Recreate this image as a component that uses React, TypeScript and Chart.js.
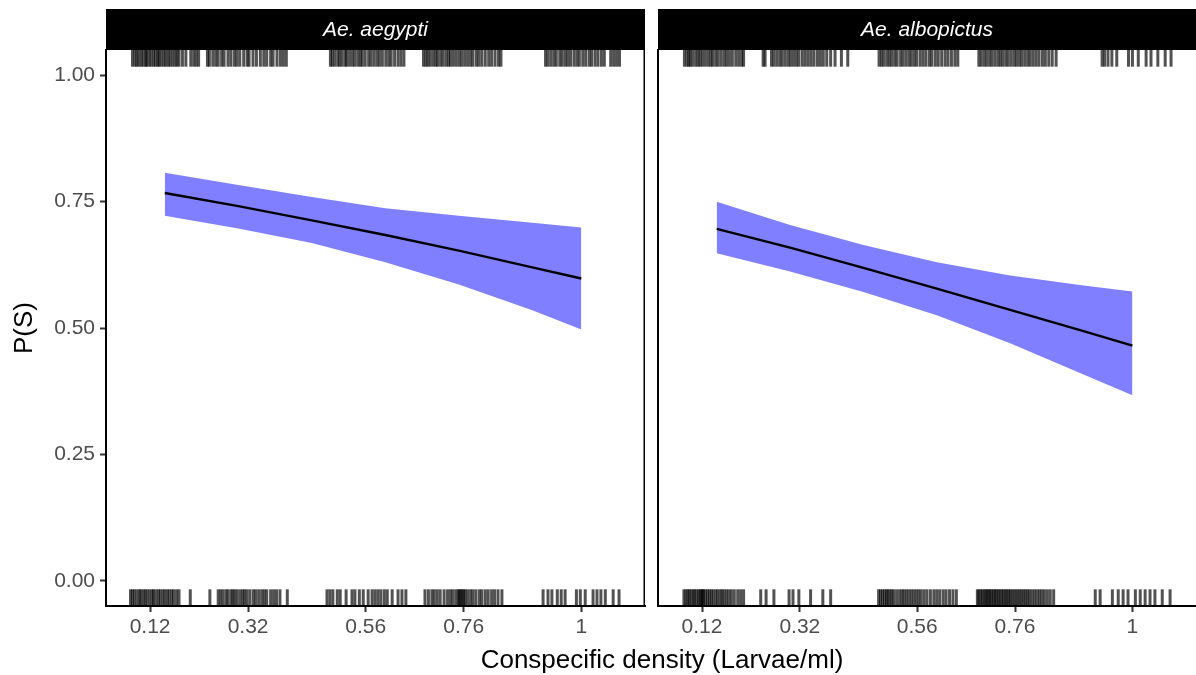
import React, { useEffect, useRef } from "react";
import { Chart, registerables } from "chart.js";

Chart.register(...registerables);

const FONT = "'Liberation Sans', Arial, Helvetica, sans-serif";

// ---- axes ----
const xTickValues = [0.12, 0.32, 0.56, 0.76, 1];
const yTickValues = [0, 0.25, 0.5, 0.75, 1];
const X_MIN = 0.03;
const X_MAX = 1.13;
const Y_MIN = -0.05;
const Y_MAX = 1.05;

// ---- fitted curves ----
const curveX = [0.15, 0.3, 0.45, 0.6, 0.75, 0.9, 1.0];
const aegyptiFit = [0.767, 0.741, 0.713, 0.684, 0.653, 0.62, 0.598];
const aegyptiUpper = [0.807, 0.783, 0.759, 0.737, 0.722, 0.708, 0.699];
const aegyptiLower = [0.722, 0.697, 0.668, 0.63, 0.586, 0.535, 0.497];
const albopictusFit = [0.696, 0.659, 0.619, 0.578, 0.536, 0.494, 0.465];
const albopictusUpper = [0.75, 0.704, 0.664, 0.63, 0.604, 0.584, 0.572];
const albopictusLower = [0.648, 0.612, 0.571, 0.525, 0.47, 0.408, 0.367];

// ---- rug observations (jittered density), survived = 1 / died = 0 ----
const aegyptiSurvived = [
  0.084, 0.089, 0.093, 0.097, 0.102, 0.106, 0.111, 0.113, 0.118, 0.122, 0.127, 0.131, 0.136, 0.138, 0.143,
  0.148, 0.152, 0.157, 0.161, 0.166, 0.171, 0.175, 0.179, 0.186, 0.193, 0.203, 0.209, 0.214, 0.219,
  0.237, 0.241, 0.248, 0.254, 0.259, 0.266, 0.271, 0.279, 0.285, 0.292, 0.297, 0.303, 0.311, 0.318, 0.322,
  0.33, 0.337, 0.345, 0.352, 0.358, 0.366, 0.371, 0.379, 0.386, 0.392, 0.398,
  0.488, 0.492, 0.497, 0.503, 0.507, 0.512, 0.518, 0.521, 0.527, 0.533, 0.538, 0.544, 0.549, 0.553, 0.559,
  0.566, 0.571, 0.577, 0.583, 0.588, 0.594, 0.601, 0.607, 0.612, 0.619, 0.626, 0.632, 0.638,
  0.678, 0.683, 0.687, 0.692, 0.698, 0.703, 0.707, 0.713, 0.718, 0.724, 0.729, 0.733, 0.739, 0.745, 0.751,
  0.756, 0.762, 0.768, 0.774, 0.779, 0.786, 0.791, 0.797, 0.804, 0.811, 0.817, 0.824, 0.831, 0.836,
  0.927, 0.932, 0.938, 0.944, 0.949, 0.956, 0.961, 0.967, 0.972, 0.978, 0.985, 0.991, 0.996, 1.003, 1.009,
  1.016, 1.021, 1.028, 1.034, 1.041, 1.047, 1.06, 1.066, 1.072, 1.078,
];
const aegyptiDied = [
  0.08, 0.084, 0.088, 0.093, 0.098, 0.101, 0.106, 0.11, 0.114, 0.119, 0.124, 0.127, 0.132, 0.137, 0.141,
  0.146, 0.15, 0.155, 0.159, 0.164, 0.168, 0.174, 0.179, 0.202,
  0.242, 0.259, 0.264, 0.269, 0.275, 0.279, 0.285, 0.289, 0.293, 0.298, 0.304, 0.309, 0.313, 0.318, 0.324,
  0.331, 0.336, 0.342, 0.348, 0.353, 0.358, 0.366, 0.372, 0.378, 0.385, 0.4,
  0.481, 0.487, 0.493, 0.502, 0.508, 0.52, 0.532, 0.538, 0.547, 0.555, 0.565, 0.573, 0.579, 0.585, 0.591,
  0.598, 0.604, 0.614, 0.626, 0.634, 0.642,
  0.681, 0.688, 0.695, 0.7, 0.706, 0.712, 0.72, 0.727, 0.733, 0.738, 0.744, 0.749, 0.751, 0.754, 0.757,
  0.76, 0.763, 0.768, 0.774, 0.779, 0.785, 0.792, 0.797, 0.804, 0.81, 0.817, 0.823, 0.83, 0.838,
  0.922, 0.932, 0.94, 0.951, 0.959, 0.967, 0.99, 0.998, 1.008, 1.024, 1.032, 1.04, 1.049, 1.065, 1.077,
];
const albopictusSurvived = [
  0.084, 0.089, 0.093, 0.096, 0.101, 0.107, 0.112, 0.116, 0.121, 0.127, 0.133, 0.138, 0.142, 0.148, 0.153,
  0.159, 0.165, 0.17, 0.176, 0.182, 0.189, 0.195, 0.201, 0.205,
  0.245, 0.249, 0.262, 0.267, 0.273, 0.279, 0.284, 0.29, 0.296, 0.301, 0.307, 0.313, 0.318, 0.325, 0.331,
  0.337, 0.343, 0.349, 0.356, 0.362, 0.368, 0.375, 0.383, 0.392, 0.405, 0.418,
  0.482, 0.487, 0.492, 0.498, 0.503, 0.508, 0.514, 0.519, 0.526, 0.531, 0.537, 0.543, 0.548, 0.554, 0.559,
  0.566, 0.572, 0.578, 0.585, 0.59, 0.597, 0.603, 0.61, 0.617, 0.623, 0.63, 0.637, 0.643,
  0.686, 0.691, 0.697, 0.702, 0.708, 0.713, 0.719, 0.725, 0.73, 0.735, 0.741, 0.746, 0.752, 0.758, 0.763,
  0.769, 0.774, 0.78, 0.786, 0.791, 0.797, 0.803, 0.809, 0.816, 0.822, 0.829, 0.836, 0.844,
  0.938, 0.943, 0.95, 0.958, 0.968, 0.992, 1.0, 1.012, 1.028, 1.038, 1.052, 1.067, 1.079,
];
const albopictusDied = [
  0.083, 0.087, 0.091, 0.094, 0.098, 0.102, 0.105, 0.109, 0.113, 0.116, 0.119, 0.121, 0.123, 0.127, 0.131,
  0.135, 0.139, 0.143, 0.148, 0.152, 0.157, 0.161, 0.165, 0.17, 0.175, 0.18, 0.186, 0.193, 0.199, 0.205,
  0.24, 0.251, 0.267, 0.298, 0.306, 0.318, 0.342, 0.367, 0.383,
  0.481, 0.485, 0.489, 0.493, 0.497, 0.5, 0.504, 0.508, 0.512, 0.518, 0.524, 0.529, 0.533, 0.538, 0.543,
  0.548, 0.553, 0.558, 0.563, 0.568, 0.574, 0.58, 0.587, 0.594, 0.6, 0.606, 0.613, 0.619, 0.626, 0.633, 0.64,
  0.683, 0.686, 0.69, 0.693, 0.697, 0.7, 0.703, 0.706, 0.709, 0.712, 0.716, 0.719, 0.722, 0.726, 0.729,
  0.733, 0.736, 0.74, 0.743, 0.747, 0.75, 0.754, 0.758, 0.762, 0.766, 0.77, 0.774, 0.778, 0.782, 0.786,
  0.79, 0.795, 0.8, 0.805, 0.81, 0.815, 0.82, 0.826, 0.832, 0.839,
  0.924, 0.934, 0.959, 0.971, 0.981, 0.991, 1.006, 1.016, 1.026, 1.036, 1.046, 1.061, 1.077,
];

const RUG_FRAC = 0.03;
const RUG_TOP_Y = Y_MAX - ((Y_MAX - Y_MIN) * RUG_FRAC) / 2;
const RUG_BOTTOM_Y = Y_MIN + ((Y_MAX - Y_MIN) * RUG_FRAC) / 2;

const stripPlugin = {
  id: "strip",
  afterDraw(chart: any, _args: any, opts: any) {
    const { ctx, chartArea } = chart;
    ctx.save();
    ctx.fillStyle = "#000000";
    ctx.fillRect(chartArea.left, 9, chartArea.right - chartArea.left, chartArea.top - 9);
    ctx.fillStyle = "#ffffff";
    ctx.font = `italic 21px ${FONT}`;
    ctx.textAlign = "center";
    ctx.textBaseline = "middle";
    ctx.fillText(opts.text || "", (chartArea.left + chartArea.right) / 2, (9 + chartArea.top) / 2 + 1);
    if (opts.rightBorder) {
      ctx.strokeStyle = "#000000";
      ctx.lineWidth = 1.5;
      ctx.beginPath();
      ctx.moveTo(chartArea.right - 0.75, chartArea.top);
      ctx.lineTo(chartArea.right - 0.75, chartArea.bottom);
      ctx.stroke();
    }
    ctx.restore();
  },
};

function buildDatasets(fit: number[], upper: number[], lower: number[], survived: number[], died: number[]) {
  const rugStyle = {
    showLine: false,
    pointStyle: "line",
    rotation: 90,
    pointRadius: 8.35,
    pointHoverRadius: 8.35,
    pointBorderWidth: 3,
    pointBorderColor: "rgba(0,0,0,0.68)",
    pointBackgroundColor: "rgba(0,0,0,0.68)",
  };
  return [
    { ...rugStyle, data: survived.map((x) => ({ x, y: RUG_TOP_Y })) },
    { ...rugStyle, data: died.map((x) => ({ x, y: RUG_BOTTOM_Y })) },
    {
      data: curveX.map((x, i) => ({ x, y: fit[i] })),
      showLine: true,
      borderColor: "#000000",
      borderWidth: 2.4,
      pointRadius: 0,
      fill: false,
    },
    {
      data: curveX.map((x, i) => ({ x, y: upper[i] })),
      showLine: true,
      borderColor: "rgba(0,0,0,0)",
      borderWidth: 0,
      pointRadius: 0,
      fill: false,
    },
    {
      data: curveX.map((x, i) => ({ x, y: lower[i] })),
      showLine: true,
      borderColor: "rgba(0,0,0,0)",
      borderWidth: 0,
      pointRadius: 0,
      fill: "-1",
      backgroundColor: "rgba(0,0,255,0.5)",
    },
  ];
}

function buildConfig(isLeft: boolean, title: string, datasets: any[]): any {
  return {
    type: "line",
    data: { datasets },
    plugins: [stripPlugin],
    options: {
      responsive: false,
      animation: false,
      devicePixelRatio: 1,
      events: [],
      layout: { autoPadding: false, padding: { top: 50, left: isLeft ? 0 : 7, right: isLeft ? 6 : 0, bottom: 0 } },
      plugins: {
        legend: { display: false },
        tooltip: { enabled: false },
        strip: { text: title, rightBorder: isLeft },
      },
      scales: {
        x: {
          type: "linear",
          min: X_MIN,
          max: X_MAX,
          afterBuildTicks: (scale: any) => {
            scale.ticks = xTickValues.map((v) => ({ value: v }));
          },
          afterFit: (scale: any) => {
            scale.height = 69;
          },
          ticks: {
            autoSkip: false,
            maxRotation: 0,
            minRotation: 0,
            padding: 3,
            color: "#4D4D4D",
            font: { family: FONT, size: 21, lineHeight: 1.2 },
            callback: (v: any) => String(v),
          },
          grid: {
            display: true,
            drawOnChartArea: false,
            drawTicks: true,
            tickLength: 6,
            tickColor: "#333333",
            tickWidth: 2,
            color: "#333333",
          },
          border: { display: true, color: "#000000", width: 2 },
        },
        y: {
          type: "linear",
          min: Y_MIN,
          max: Y_MAX,
          afterBuildTicks: (scale: any) => {
            scale.ticks = yTickValues.map((v) => ({ value: v }));
          },
          afterFit: (scale: any) => {
            scale.width = isLeft ? 106 : 0;
          },
          ticks: {
            display: isLeft,
            autoSkip: false,
            padding: 5,
            color: "#4D4D4D",
            font: { family: FONT, size: 21, lineHeight: 1.2 },
            callback: (v: any) => Number(v).toFixed(2),
          },
          grid: {
            display: true,
            drawOnChartArea: false,
            drawTicks: isLeft,
            tickLength: 6,
            tickColor: "#333333",
            tickWidth: 2,
            color: "#333333",
          },
          border: { display: true, color: "#000000", width: 2 },
          title: {
            display: isLeft,
            text: "P(S)",
            color: "#000000",
            font: { family: FONT, size: 26, lineHeight: 1.2 },
            padding: { top: 9, bottom: 0 },
          },
        },
      },
    },
  };
}

function Panel(props: { left: number; width: number; isLeft: boolean; title: string; datasets: any[] }) {
  const ref = useRef<HTMLCanvasElement | null>(null);
  useEffect(() => {
    if (!ref.current) return;
    const chart = new Chart(ref.current, buildConfig(props.isLeft, props.title, props.datasets));
    return () => chart.destroy();
  }, []);
  return (
    <canvas
      ref={ref}
      width={props.width}
      height={675}
      style={{ position: "absolute", left: props.left, top: 0, width: props.width, height: 675 }}
    />
  );
}

export default function App() {
  Chart.defaults.font.family = FONT;
  const leftSets = buildDatasets(aegyptiFit, aegyptiUpper, aegyptiLower, aegyptiSurvived, aegyptiDied);
  const rightSets = buildDatasets(albopictusFit, albopictusUpper, albopictusLower, albopictusSurvived, albopictusDied);
  return (
    <div
      style={{
        position: "absolute",
        left: 0,
        top: 0,
        width: 1196,
        height: 675,
        background: "#ffffff",
        overflow: "hidden",
        fontFamily: FONT,
      }}
    >
      <Panel left={0} width={651} isLeft={true} title="Ae. aegypti" datasets={leftSets} />
      <Panel left={651} width={545} isLeft={false} title="Ae. albopictus" datasets={rightSets} />
      <div
        style={{
          position: "absolute",
          left: 662,
          top: 644,
          transform: "translateX(-50%)",
          whiteSpace: "nowrap",
          fontSize: 26,
          lineHeight: "30px",
          color: "#000000",
          fontFamily: FONT,
        }}
      >
        Conspecific density (Larvae/ml)
      </div>
    </div>
  );
}
